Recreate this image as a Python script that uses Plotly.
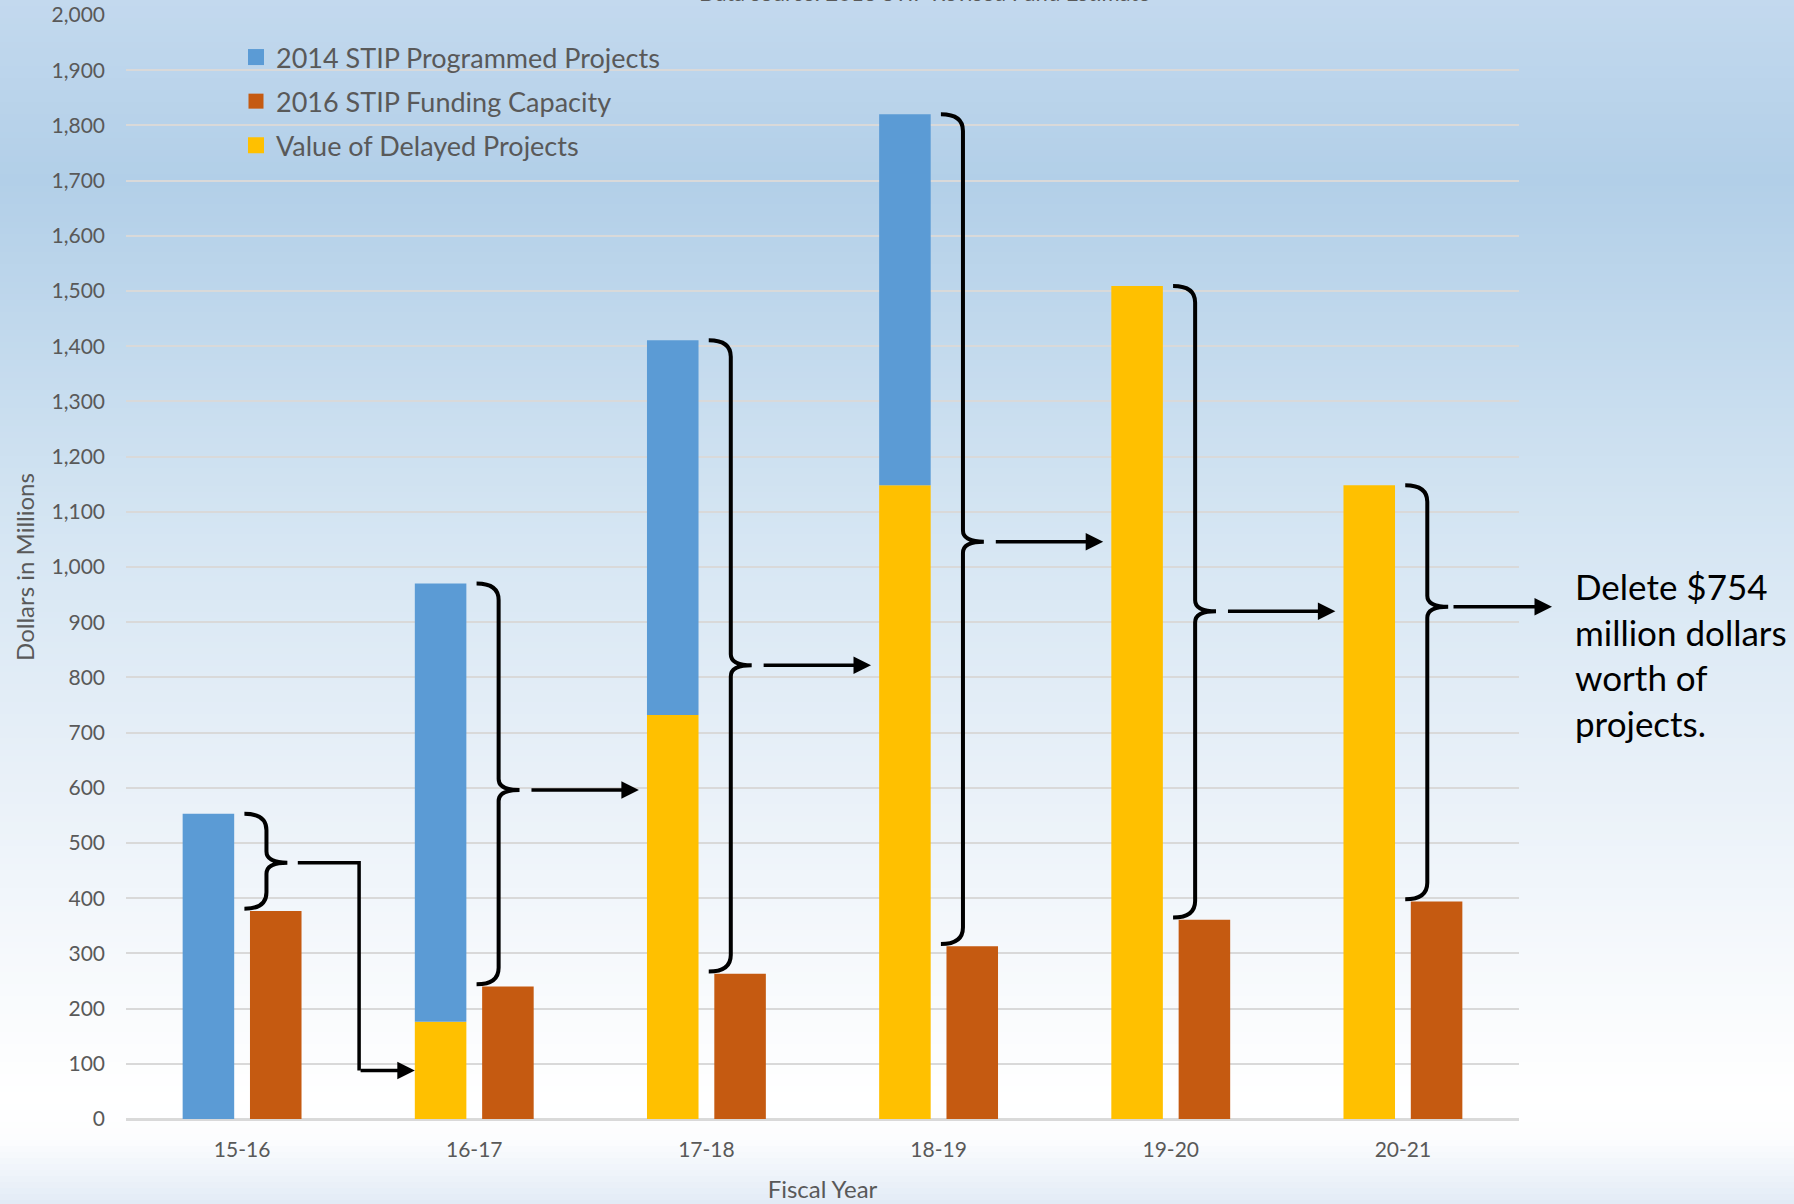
import plotly.graph_objects as go

# ---------------- data ----------------
categories = ["15-16", "16-17", "17-18", "18-19", "19-20", "20-21"]
programmed = [553, 794, 679, 672, 0, 0]        # 2014 STIP Programmed Projects (blue segment)
capacity = [377, 240, 263, 313, 361, 394]      # 2016 STIP Funding Capacity
delayed = [0, 176, 732, 1148, 1509, 1148]      # Value of Delayed Projects
y_tickvals = list(range(0, 2001, 100))
note_text = "Delete $754<br>million dollars<br>worth of<br>projects."
title_text = "Data source: 2016 STIP Revised Fund Estimate"

# ---------------- geometry helpers ----------------
W, H = 1794, 1204
L, R, T, B = 126, 275, 15, 85
PW, PH = W - L - R, H - T - B


def px_x(px):
    return (px - L) / PW


def px_y(py):
    return (H - B - py) / PH


xs = list(range(len(categories)))
totals = [d + p for d, p in zip(delayed, programmed)]

BAR_W = 0.222
LEFT_OFF = -0.256
RIGHT_OFF = 0.034

C_BLUE, C_ORANGE, C_YELLOW = "#5B9BD5", "#C55A11", "#FFC000"

fig = go.Figure()

fig.add_trace(go.Bar(
    x=xs, y=delayed, name="Value of Delayed Projects",
    marker=dict(color=C_YELLOW, line=dict(width=0)),
    width=BAR_W, offset=LEFT_OFF, showlegend=False,
))
fig.add_trace(go.Bar(
    x=xs, y=programmed, base=delayed, name="2014 STIP Programmed Projects",
    marker=dict(color=C_BLUE, line=dict(width=0)),
    width=BAR_W, offset=LEFT_OFF, showlegend=False,
))
fig.add_trace(go.Bar(
    x=xs, y=capacity, name="2016 STIP Funding Capacity",
    marker=dict(color=C_ORANGE, line=dict(width=0)),
    width=BAR_W, offset=RIGHT_OFF, showlegend=False,
))

# legend entries with larger square swatches
for rank, (name, col, size) in enumerate([
    ("2014 STIP Programmed Projects", C_BLUE, 19),
    ("2016 STIP Funding Capacity", C_ORANGE, 15),
    ("Value of Delayed Projects", C_YELLOW, 19),
]):
    fig.add_trace(go.Scatter(
        x=[None], y=[None], mode="markers", name=name,
        marker=dict(symbol="square", size=size, color=col, line=dict(width=0)),
        legendgroup=f"g{rank}", legendrank=rank + 1,
    ))

shapes = []

# ---------------- background gradient ----------------
stops = [
    (0, (195, 217, 238)),
    (180, (178, 207, 232)),
    (540, (214, 230, 243)),
    (770, (232, 240, 248)),
    (960, (246, 249, 252)),
    (1100, (255, 255, 255)),
    (1140, (252, 253, 254)),
    (1204, (226, 235, 246)),
]


def grad(py):
    for (p0, c0), (p1, c1) in zip(stops[:-1], stops[1:]):
        if p0 <= py <= p1:
            t = (py - p0) / (p1 - p0)
            return tuple(round(a + (b - a) * t) for a, b in zip(c0, c1))
    return stops[-1][1]


step = 6
for py in range(0, H, step):
    c = grad(py + step / 2)
    shapes.append(dict(
        type="rect", xref="paper", yref="paper", layer="below",
        x0=px_x(0), x1=px_x(W), y0=px_y(py + step + 1), y1=px_y(py),
        fillcolor="rgb(%d,%d,%d)" % c, line=dict(width=0),
    ))

# ---------------- braces & arrows ----------------
B_L, B_M, B_T = 0.01, 0.105, 0.195
RY, RT = 30, 20


def brace(i, top, bot, tip):
    x0, xl, xt = i + B_L, i + B_M, i + B_T
    return (f"M {x0},{top} Q {xl},{top} {xl},{top - RY} "
            f"L {xl},{tip + RT} Q {xl},{tip} {xt},{tip} "
            f"Q {xl},{tip} {xl},{tip - RT} "
            f"L {xl},{bot + RY} Q {xl},{bot} {x0},{bot}")


annotations = []
last_tip = 928
tips = []
for i in xs:
    top = totals[i]
    bot = capacity[i] + 4
    tip = bot + 0.485 * (top - bot) if i < len(xs) - 1 else last_tip
    tips.append(tip)
    shapes.append(dict(type="path", xref="x", yref="y", path=brace(i, top, bot, tip),
                       line=dict(color="black", width=4)))

ARROW = dict(showarrow=True, arrowhead=2, arrowsize=1, arrowwidth=3.5, arrowcolor="black", text="")

# elbow arrow from first brace to the delayed part of second year
elbow_x = 0.504
y_target = delayed[1] / 2
shapes.append(dict(
    type="path", xref="x", yref="y",
    path=f"M {0 + B_T + 0.045},{tips[0]} L {elbow_x},{tips[0]} L {elbow_x},{y_target}",
    line=dict(color="black", width=3.5),
))
annotations.append(dict(
    x=1 + LEFT_OFF, y=y_target, ax=elbow_x, ay=y_target,
    xref="x", yref="y", axref="x", ayref="y", **ARROW,
))
for i in range(1, len(xs) - 1):
    annotations.append(dict(
        x=i + 1 + LEFT_OFF - 0.035, y=tips[i], ax=i + B_T + 0.045, ay=tips[i],
        xref="x", yref="y", axref="x", ayref="y", **ARROW,
    ))
# final arrow toward the note
annotations.append(dict(
    x=px_x(1552), y=last_tip, xref="paper", yref="y", ax=-100, ay=0, **ARROW,
))
annotations.append(dict(
    x=px_x(1573), y=px_y(654), xref="paper", yref="paper", xanchor="left",
    yanchor="middle", align="left", showarrow=False, text=note_text,
    font=dict(family="Lato", size=35, color="black"),
))
annotations.append(dict(
    x=px_x(924), y=px_y(8), xref="paper", yref="paper", xanchor="center",
    yanchor="bottom", showarrow=False, text=title_text,
    font=dict(family="Lato", size=22, color="#595959"),
))

fig.update_layout(
    width=W, height=H,
    margin=dict(l=L, r=R, t=T, b=B, autoexpand=False),
    paper_bgcolor="white", plot_bgcolor="rgba(0,0,0,0)",
    barmode="overlay",
    font=dict(family="Lato", color="#595959"),
    shapes=shapes, annotations=annotations,
    legend=dict(
        x=px_x(236), y=px_y(33), xanchor="left", yanchor="top",
        bgcolor="rgba(0,0,0,0)", font=dict(size=27, color="#595959"),
        traceorder="grouped", tracegroupgap=6, itemsizing="trace",
    ),
    xaxis=dict(
        range=[-0.5, 5.5], tickvals=xs, ticktext=categories,
        showgrid=False, zeroline=False, showline=False, ticks="",
        tickfont=dict(size=21, color="#595959"), ticklabelstandoff=16,
        title=dict(text="Fiscal Year", font=dict(size=24, color="#595959"), standoff=21),
        fixedrange=True,
    ),
    yaxis=dict(
        range=[0, 2000], tickvals=y_tickvals, tickformat=",",
        showgrid=True, gridcolor="#D9D9D9", gridwidth=2,
        zeroline=True, zerolinecolor="#D9D9D9", zerolinewidth=3,
        showline=False, ticks="",
        tickfont=dict(size=21, color="#595959"), ticklabelstandoff=20,
        title=dict(text="Dollars in Millions", font=dict(size=24, color="#595959"), standoff=10),
        fixedrange=True,
    ),
)

fig.write_html("out.html")
